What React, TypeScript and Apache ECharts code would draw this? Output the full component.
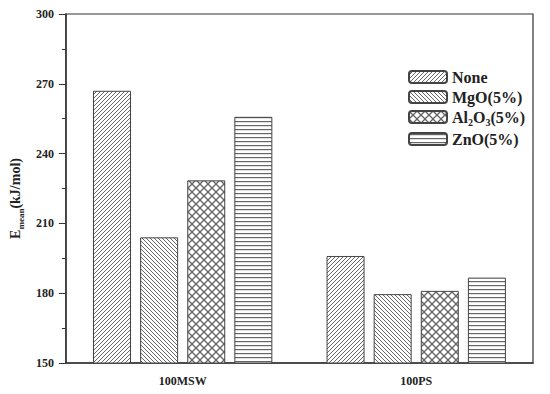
import React, { useEffect, useRef } from "react";
import * as echarts from "echarts";

const categories = ["100MSW", "100PS"];
const seriesNames = ["None", "MgO(5%)", "Al2O3(5%)", "ZnO(5%)"];
const noneValues = [267, 196];
const mgoValues = [204, 179.6];
const al2o3Values = [228.5, 181];
const znoValues = [255.8, 186.7];
const yTicks = { min: 150, max: 300, interval: 30 };

const FONT = "Liberation Serif";
const INK = "#444";

function makePattern(kind: string) {
  const s = kind === "cross" ? 8 : 4;
  const c = document.createElement("canvas");
  c.width = s;
  c.height = s;
  const ctx = c.getContext("2d")!;
  ctx.fillStyle = "#fff";
  ctx.fillRect(0, 0, s, s);
  ctx.strokeStyle = "#666";
  ctx.fillStyle = "#666";
  ctx.lineWidth = 1;
  const fwd = () => {
    for (const o of [-s, 0, s]) {
      ctx.beginPath();
      ctx.moveTo(-1 + o, s + 1);
      ctx.lineTo(s + 1 + o, -1);
      ctx.stroke();
    }
  };
  const back = () => {
    for (const o of [-s, 0, s]) {
      ctx.beginPath();
      ctx.moveTo(-1 + o, -1);
      ctx.lineTo(s + 1 + o, s + 1);
      ctx.stroke();
    }
  };
  if (kind === "fwd") fwd();
  else if (kind === "back") back();
  else if (kind === "cross") {
    ctx.lineWidth = 1.3;
    fwd();
    back();
  } else {
    ctx.fillRect(0, 1, s, 1.2);
  }
  return {
    image: c.toDataURL(),
    repeat: "repeat",
    imageWidth: s,
    imageHeight: s,
  } as any;
}

export default function App() {
  const ref = useRef<HTMLDivElement>(null);
  useEffect(() => {
    document.body.style.margin = "0";
    if (!ref.current) return;
    const chart = echarts.init(ref.current, undefined, { renderer: "svg" });
    const patterns = [
      makePattern("fwd"),
      makePattern("back"),
      makePattern("cross"),
      makePattern("h"),
    ];
    const dataSets = [noneValues, mgoValues, al2o3Values, znoValues];
    const richName = {
      b: { fontFamily: FONT, fontWeight: "bold", fontSize: 14, lineHeight: 20, color: "#222" },
      s: { fontFamily: FONT, fontWeight: "bold", fontSize: 9, lineHeight: 8, verticalAlign: "bottom", color: "#222" },
    };
    const richLegend = {
      b: { fontFamily: FONT, fontWeight: "bold", fontSize: 16, lineHeight: 20, color: "#222" },
      s: { fontFamily: FONT, fontWeight: "bold", fontSize: 10, lineHeight: 8, verticalAlign: "bottom", color: "#222" },
    };
    chart.setOption({
      animation: false,
      backgroundColor: "#fff",
      grid: {
        left: 65,
        top: 14,
        right: 17,
        bottom: 31,
        show: true,
        borderColor: "#333",
        borderWidth: 1.2,
      },
      legend: {
        orient: "vertical",
        left: 403,
        top: 64,
        itemWidth: 38,
        itemHeight: 12,
        itemGap: 4,
        data: seriesNames,
        formatter: (name: string) => {
          if (name === "Al2O3(5%)") return "{b|Al}{s|2}{b|O}{s|3}{b|(5%)}";
          return "{b|" + name + "}";
        },
        textStyle: { rich: richLegend },
      },
      xAxis: {
        type: "category",
        data: categories,
        axisLine: { lineStyle: { color: "#333", width: 1.5 } },
        axisTick: { show: false },
        axisLabel: {
          fontFamily: FONT,
          fontWeight: "bold",
          fontSize: 12,
          color: "#222",
          margin: 12,
        },
      },
      yAxis: {
        type: "value",
        min: yTicks.min,
        max: yTicks.max,
        interval: yTicks.interval,
        name: "{b|E}{s|mean}{b|(kJ/mol)}",
        nameLocation: "middle",
        nameGap: 39,
        nameTextStyle: { rich: richName, padding: [0, 20, 0, 0] },
        axisLine: { show: true, lineStyle: { color: "#333", width: 1.5 } },
        axisTick: { show: true, length: 7, lineStyle: { color: "#333" } },
        minorTick: { show: true, splitNumber: 2, length: 4, lineStyle: { color: "#333" } },
        splitLine: { show: false },
        axisLabel: {
          fontFamily: FONT,
          fontWeight: "bold",
          fontSize: 12,
          color: "#222",
          margin: 12,
        },
      },
      series: seriesNames.map((n, i) => ({
        name: n,
        type: "bar",
        data: dataSets[i],
        barWidth: 38,
        barGap: "24%",
        itemStyle: {
          color: patterns[i],
          borderColor: INK,
          borderWidth: 1,
        },
      })),
    });
    return () => chart.dispose();
  }, []);
  return <div ref={ref} style={{ width: 550, height: 394 }} />;
}
